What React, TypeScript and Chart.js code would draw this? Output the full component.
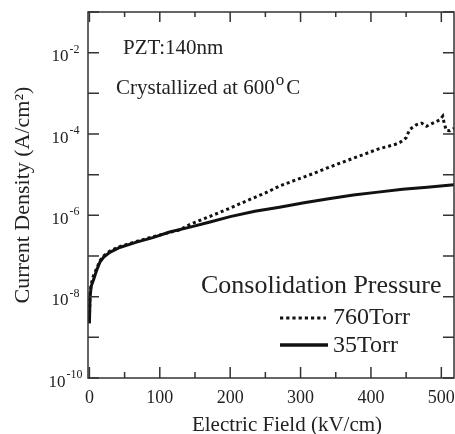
import React, { useEffect, useRef } from "react";
import { Chart, registerables } from "chart.js";

Chart.register(...registerables);

// Electric field (kV/cm) and current density (A/cm^2)
const field760 = [0, 0.9, 2.5, 5.5, 10.4, 15, 20, 29, 43, 67, 90, 114, 128, 143, 160, 175, 200, 225, 250, 270, 295, 317, 340, 365, 390, 412, 425, 435, 441, 446, 450, 455, 465, 472, 479, 488, 498, 502, 504, 507, 512, 518];
const current760 = [2.8e-9, 1.12e-8, 2.0e-8, 3.2e-8, 5.0e-8, 7.6e-8, 1.0e-7, 1.32e-7, 1.7e-7, 2.29e-7, 2.95e-7, 3.8e-7, 4.37e-7, 6.0e-7, 7.9e-7, 1.0e-6, 1.51e-6, 2.34e-6, 3.55e-6, 5.25e-6, 7.6e-6, 1.05e-5, 1.51e-5, 2.19e-5, 3.16e-5, 4.37e-5, 5.0e-5, 5.6e-5, 6.2e-5, 7.1e-5, 8.1e-5, 1.29e-4, 1.7e-4, 1.86e-4, 1.55e-4, 1.86e-4, 2.24e-4, 2.75e-4, 1.86e-4, 1.23e-4, 1.2e-4, 1.38e-4];

const field35 = [0, 0.9, 2.5, 5.5, 10.4, 15, 20, 29, 43, 67, 90, 114, 143, 170, 200, 235, 270, 305, 340, 375, 410, 445, 480, 518];
const current35 = [2.2e-9, 9.8e-9, 1.8e-8, 2.5e-8, 4.5e-8, 7.1e-8, 9.3e-8, 1.23e-7, 1.62e-7, 2.19e-7, 2.82e-7, 3.89e-7, 5.13e-7, 6.76e-7, 9.3e-7, 1.26e-6, 1.58e-6, 2.04e-6, 2.57e-6, 3.16e-6, 3.72e-6, 4.37e-6, 4.9e-6, 5.62e-6];

const xMajorTicks = [0, 100, 200, 300, 400, 500];
const xMinorTicks = [50, 150, 250, 350, 450];
const yDecades = [1e-10, 1e-9, 1e-8, 1e-7, 1e-6, 1e-5, 1e-4, 1e-3, 1e-2, 1e-1];
const yLabelExponents = ["-10", "-8", "-6", "-4", "-2"];
const yLabelValues = [1e-10, 1e-8, 1e-6, 1e-4, 1e-2];

const seriesLabels = ["760Torr", "35Torr"];
const legendTitle = "Consolidation Pressure";
const xTitle = "Electric Field (kV/cm)";
const yTitle = "Current Density (A/cm²)";
const note1 = "PZT:140nm";
const note2 = "Crystallized at 600";
const note2Deg = "o";
const note2Unit = "C";

const SERIF = '"Liberation Serif", "DejaVu Serif", serif';
const TEXT = "#222";

const decorPlugin = {
  id: "decor",
  afterDraw(chart: any) {
    const { ctx, chartArea, scales } = chart;
    const { left, right, top, bottom } = chartArea;
    const x = scales.x;
    const y = scales.y;
    ctx.save();
    // frame
    ctx.strokeStyle = "#333";
    ctx.lineWidth = 1.5;
    ctx.strokeRect(left, top, right - left, bottom - top);
    // ticks
    ctx.beginPath();
    xMajorTicks.forEach((v) => {
      const px = x.getPixelForValue(v);
      ctx.moveTo(px, bottom);
      ctx.lineTo(px, bottom - 11);
      ctx.moveTo(px, top);
      ctx.lineTo(px, top + 10);
    });
    xMinorTicks.forEach((v) => {
      const px = x.getPixelForValue(v);
      ctx.moveTo(px, bottom);
      ctx.lineTo(px, bottom - 6);
      ctx.moveTo(px, top);
      ctx.lineTo(px, top + 5);
    });
    yDecades.forEach((v) => {
      const py = y.getPixelForValue(v);
      ctx.moveTo(left, py);
      ctx.lineTo(left + 11, py);
      ctx.moveTo(right, py);
      ctx.lineTo(right - 11, py);
    });
    ctx.stroke();

    // y tick labels with superscripts
    ctx.fillStyle = TEXT;
    ctx.textBaseline = "alphabetic";
    ctx.textAlign = "left";
    yLabelValues.forEach((v, i) => {
      const py = y.getPixelForValue(v);
      ctx.font = `17px ${SERIF}`;
      const wBase = ctx.measureText("10").width;
      ctx.font = `12px ${SERIF}`;
      const wExp = ctx.measureText(yLabelExponents[i]).width;
      const start = 65 - (wBase + wExp) / 2;
      ctx.font = `17px ${SERIF}`;
      ctx.fillText("10", start, py + 8.5);
      ctx.font = `12px ${SERIF}`;
      ctx.fillText(yLabelExponents[i], start + wBase + 1, py);
    });

    // annotations
    ctx.font = `21px ${SERIF}`;
    ctx.fillText(note1, 123, 54);
    ctx.fillText(note2, 116, 94);
    let cx = 116 + ctx.measureText(note2).width + 1;
    ctx.font = `17px ${SERIF}`;
    ctx.fillText(note2Deg, cx, 85);
    cx += ctx.measureText(note2Deg).width + 2;
    ctx.font = `21px ${SERIF}`;
    ctx.fillText(note2Unit, cx, 94);

    // legend
    ctx.font = `26px ${SERIF}`;
    ctx.fillText(legendTitle, 201, 293);
    ctx.font = `24px ${SERIF}`;
    ctx.fillText(seriesLabels[0], 333, 324);
    ctx.fillText(seriesLabels[1], 333, 352);
    ctx.strokeStyle = "#111";
    ctx.lineWidth = 3;
    ctx.setLineDash([3.2, 3]);
    ctx.beginPath();
    ctx.moveTo(280, 318);
    ctx.lineTo(326, 318);
    ctx.stroke();
    ctx.setLineDash([]);
    ctx.lineWidth = 3.5;
    ctx.beginPath();
    ctx.moveTo(280, 345);
    ctx.lineTo(328, 345);
    ctx.stroke();

    // axis titles
    ctx.fillStyle = TEXT;
    ctx.font = `21px ${SERIF}`;
    ctx.textAlign = "center";
    ctx.fillText(xTitle, 287, 431);
    ctx.save();
    ctx.translate(29, (top + bottom) / 2);
    ctx.rotate(-Math.PI / 2);
    ctx.font = `22px ${SERIF}`;
    ctx.fillText(yTitle, 0, 0);
    ctx.restore();
    ctx.restore();
  },
};

export default function App() {
  const ref = useRef<HTMLCanvasElement>(null);
  useEffect(() => {
    if (!ref.current) return;
    const chart = new Chart(ref.current, {
      type: "line",
      data: {
        datasets: [
          {
            label: seriesLabels[0],
            data: field760.map((v, i) => ({ x: v, y: current760[i] })),
            borderColor: "#111",
            borderWidth: 3,
            borderDash: [3, 3],
            pointRadius: 0,
            tension: 0,
            fill: false,
          },
          {
            label: seriesLabels[1],
            data: field35.map((v, i) => ({ x: v, y: current35[i] })),
            borderColor: "#111",
            borderWidth: 3,
            pointRadius: 0,
            tension: 0,
            fill: false,
          },
        ],
      },
      options: {
        responsive: false,
        animation: false,
        layout: { padding: { top: 12, right: 1, left: 0, bottom: 0 } },
        plugins: { legend: { display: false }, tooltip: { enabled: false } },
        scales: {
          x: {
            type: "linear",
            min: -2,
            max: 518,
            afterBuildTicks: (s: any) => {
              s.ticks = xMajorTicks.map((v) => ({ value: v }));
            },
            afterFit: (s: any) => {
              s.height = 56;
              s.paddingLeft = 0;
              s.paddingRight = 0;
            },
            ticks: {
              font: { family: SERIF, size: 18 },
              color: TEXT,
              padding: 9,
              maxRotation: 0,
              autoSkip: false,
            },
            grid: { display: false, drawTicks: false },
            border: { display: false },
          },
          y: {
            type: "logarithmic",
            min: 1e-10,
            max: 1e-1,
            afterBuildTicks: (s: any) => {
              s.ticks = yDecades.map((v) => ({ value: v }));
            },
            afterFit: (s: any) => {
              s.width = 88;
              s.paddingTop = 0;
              s.paddingBottom = 0;
            },
            ticks: { display: false },
            grid: { display: false, drawTicks: false },
            border: { display: false },
          },
        },
      },
      plugins: [decorPlugin],
    });
    return () => chart.destroy();
  }, []);
  return (
    <div style={{ position: "absolute", left: 0, top: 0, width: 455, height: 434, background: "#fff" }}>
      <canvas ref={ref} width={455} height={434} style={{ display: "block" }} />
    </div>
  );
}
